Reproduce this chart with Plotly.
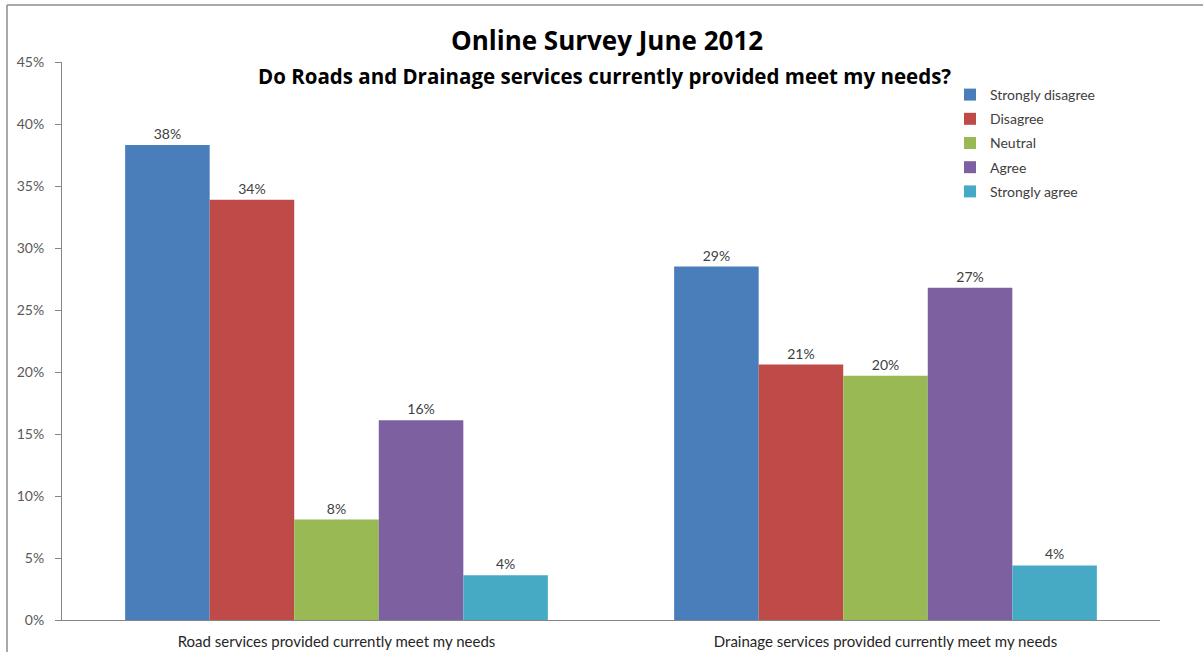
import plotly.graph_objects as go

# Survey questions (x categories)
questions = [
    "Road services provided currently meet my needs",
    "Drainage services provided currently meet my needs",
]

# Response shares in percent, per answer option
strongly_disagree = [38.3, 28.5]
disagree = [33.9, 20.6]
neutral = [8.1, 19.7]
agree = [16.1, 26.8]
strongly_agree = [3.6, 4.4]

answers = ["Strongly disagree", "Disagree", "Neutral", "Agree", "Strongly agree"]
series = [strongly_disagree, disagree, neutral, agree, strongly_agree]
colors = ["#4A7EBB", "#BE4B48", "#98B954", "#7D60A0", "#46AAC5"]

y_ticks = [0, 5, 10, 15, 20, 25, 30, 35, 40, 45]
y_tick_text = [f"{t}%" for t in y_ticks]

FONT = "Lato, Open Sans, sans-serif"

fig = go.Figure()
for name, vals, col in zip(answers, series, colors):
    fig.add_trace(go.Bar(
        x=questions,
        y=vals,
        name=name,
        legendgroup=name,
        marker=dict(color=col, line=dict(width=0)),
        texttemplate="%{y:.0f}%",
        textposition="outside",
        textfont=dict(family=FONT, size=14, color="#404040"),
        cliponaxis=False,
    ))

PX_L, PX_R = 62, 1160
PX_T, PX_B = 62, 620
W = PX_R - PX_L
H = PX_B - PX_T


def px_x(p):
    return (p - PX_L) / W


def px_y(p):
    return (PX_B - p) / H


fig.update_layout(
    width=1203,
    height=652,
    margin=dict(l=PX_L, r=1203 - PX_R, t=PX_T, b=652 - PX_B, pad=0, autoexpand=False),
    paper_bgcolor="white",
    plot_bgcolor="white",
    barmode="group",
    bargap=0.23,
    bargroupgap=0,
    showlegend=True,
    legend=dict(
        x=px_x(950), y=px_y(79), xanchor="left", yanchor="top",
        bgcolor="rgba(0,0,0,0)",
        font=dict(family=FONT, size=14, color="#404040"),
        tracegroupgap=3,
        itemwidth=30,
    ),
    font=dict(family=FONT),
    xaxis=dict(
        automargin=False,
        showline=True, linecolor="#868686", linewidth=1,
        ticks="", showgrid=False, zeroline=False,
        ticklabelstandoff=8,
        tickfont=dict(family=FONT, size=15, color="#262626"),
    ),
    yaxis=dict(
        automargin=False,
        range=[0, 45],
        tickvals=y_ticks,
        ticktext=y_tick_text,
        showline=True, linecolor="#868686", linewidth=1,
        ticks="outside", ticklen=6, tickcolor="#868686",
        ticklabelstandoff=8,
        showgrid=False, zeroline=False,
        tickfont=dict(family=FONT, size=14, color="#595959"),
    ),
    annotations=[
        dict(text="<b>Online Survey June 2012</b>", xref="paper", yref="paper",
             x=px_x(607), y=px_y(40), xanchor="center", yanchor="middle", showarrow=False,
             font=dict(family="Open Sans, sans-serif", size=26, color="#000000")),
        dict(text="<b>Do Roads and Drainage services currently provided meet my needs?</b>",
             xref="paper", yref="paper",
             x=px_x(604), y=px_y(76), xanchor="center", yanchor="middle", showarrow=False,
             font=dict(family="Open Sans, sans-serif", size=20.5, color="#000000")),
    ],
    shapes=[
        # chart frame (left and top edges)
        dict(type="line", xref="paper", yref="paper",
             x0=px_x(7), x1=px_x(7), y0=px_y(5), y1=px_y(652),
             line=dict(color="#8C8C8C", width=1.5)),
        dict(type="line", xref="paper", yref="paper",
             x0=px_x(7), x1=px_x(1203), y0=px_y(5), y1=px_y(5),
             line=dict(color="#8C8C8C", width=1.5)),
    ],
)

fig.write_html("out.html")
